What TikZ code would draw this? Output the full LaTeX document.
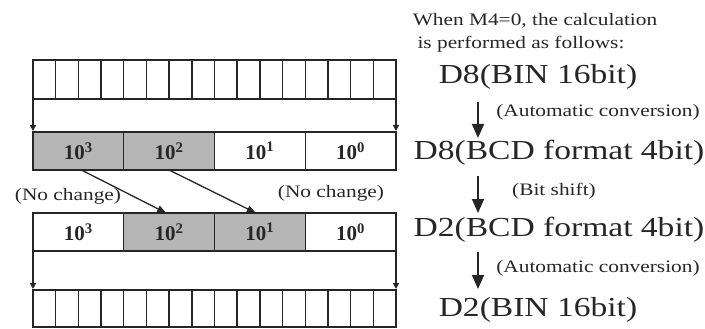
\documentclass[tikz,border=0pt]{standalone}
\usepackage{fontspec}
\setmainfont[FakeStretch=1.22]{Liberation Serif}
\newfontfamily\cellfont{Liberation Serif}
\usetikzlibrary{arrows.meta}
\definecolor{ink}{HTML}{262626}
\definecolor{shade}{HTML}{B5B5B5}
\tikzset{
  bitcell/.style={draw=ink, line width=1.4pt, minimum width=22.6875pt, minimum height=39pt, inner sep=0pt, outer sep=0pt},
  bcdcell/.style={draw=ink, line width=1.4pt, minimum width=90.75pt, minimum height=38pt, inner sep=0pt, outer sep=0pt,
    font=\cellfont\bfseries\fontsize{21}{24}\selectfont, text=ink},
  gray cell/.style={bcdcell, fill=shade},
  sidearrow/.style={draw=ink, line width=1.4pt, -{Triangle[width=6pt,length=6pt]}, shorten >=1pt},
  shiftarrow/.style={draw=ink, line width=1.3pt, -{Triangle[width=7pt,length=9pt]}},
  bigarrow/.style={draw=ink, line width=1.8pt, -{Triangle[width=12pt,length=14pt]}},
  small/.style={inner sep=0pt, text=ink, font=\fontsize{17.5}{20}\selectfont},
  big/.style={inner sep=0pt, text=ink, font=\fontsize{27.5}{30}\selectfont}
}
\begin{document}
\begin{tikzpicture}[x=1pt,y=-1pt]
\useasboundingbox (0,0) rectangle (705,329);
% top 16-bit register
\foreach \i in {1,...,16}
  \node[bitcell] (a\i) at ({33+(\i-0.5)*22.6875}, 79.5) {};
% BCD row 1
\node[gray cell] (p1) at ({33+0.5*90.75}, 151) {10\textsuperscript{3}};
\node[gray cell] (p2) at ({33+1.5*90.75}, 151) {10\textsuperscript{2}};
\node[bcdcell]   (p3) at ({33+2.5*90.75}, 151) {10\textsuperscript{1}};
\node[bcdcell]   (p4) at ({33+3.5*90.75}, 151) {10\textsuperscript{0}};
% BCD row 2
\node[bcdcell]   (q1) at ({33+0.5*90.75}, 232) {10\textsuperscript{3}};
\node[gray cell] (q2) at ({33+1.5*90.75}, 232) {10\textsuperscript{2}};
\node[gray cell] (q3) at ({33+2.5*90.75}, 232) {10\textsuperscript{1}};
\node[bcdcell]   (q4) at ({33+3.5*90.75}, 232) {10\textsuperscript{0}};
% bottom 16-bit register
\foreach \i in {1,...,16}
  \node[bitcell, minimum height=37pt] (b\i) at ({33+(\i-0.5)*22.6875}, 308.5) {};
% side arrows
\draw[sidearrow] (a1.north west) -- (p1.north west);
\draw[sidearrow] (a16.north east) -- (p4.north east);
\draw[sidearrow] (q1.south west) -- (b1.north west);
\draw[sidearrow] (q4.south east) -- (b16.north east);
% shift arrows
\draw[shiftarrow] ([xshift=3pt]p1.south) -- ([xshift=-3pt]q2.north);
\draw[shiftarrow] (p2.south) -- ([xshift=-4pt]q3.north);
% no change labels
\node[small] (nc1) at (68,196) {(No change)};
\node[small] (nc2) at (331,193) {(No change)};
% right column
\node[small] (w1) at (535,21) {When M4=0, the calculation};
\node[small] (w2) at (521,44) {is performed as follows:};
\node[big] (s1) at (538,77) {D8(BIN 16bit)};
\node[small] (c1) at (598,112) {(Automatic conversion)};
\node[big] (s2) at (559,153) {D8(BCD format 4bit)};
\node[small] (c2) at (554,191) {(Bit shift)};
\node[big] (s3) at (559,230) {D2(BCD format 4bit)};
\node[small] (c3) at (598,268) {(Automatic conversion)};
\node[big] (s4) at (538,310) {D2(BIN 16bit)};
\coordinate (r1a) at (478,102);
\coordinate (r1b) at (478,138);
\coordinate (r2a) at (478,176);
\coordinate (r2b) at (478,213);
\coordinate (r3a) at (478,252);
\coordinate (r3b) at (478,289);
\draw[bigarrow] (r1a) -- (r1b);
\draw[bigarrow] (r2a) -- (r2b);
\draw[bigarrow] (r3a) -- (r3b);
\end{tikzpicture}
\end{document}
